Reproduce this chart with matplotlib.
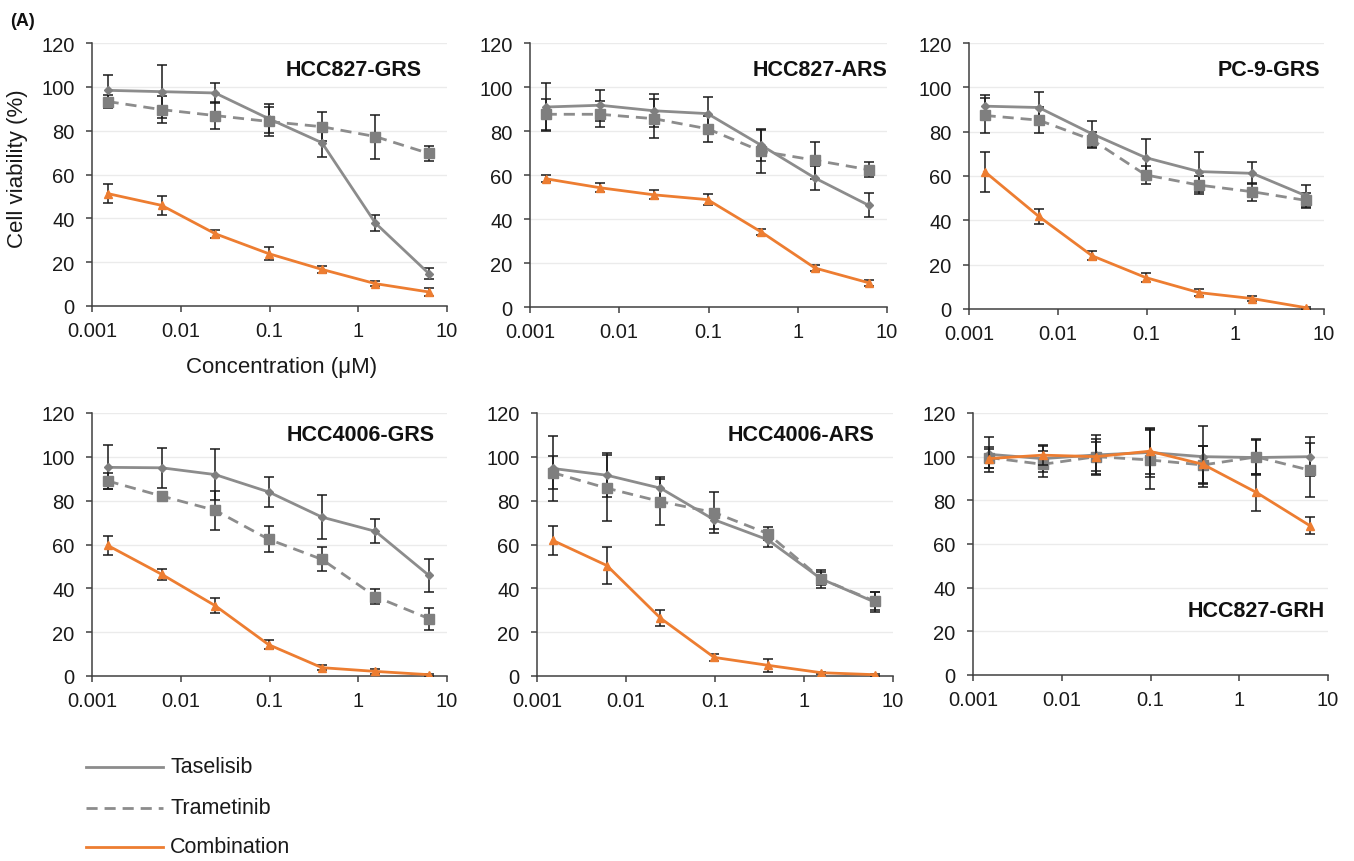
import matplotlib
matplotlib.use("Agg")
import matplotlib.pyplot as plt
from matplotlib.lines import Line2D
import numpy as np

plt.rcParams['font.family'] = ['Liberation Sans', 'DejaVu Sans']

conc = [0.0015, 0.0061, 0.0244, 0.0977, 0.39, 1.5625, 6.25]

panel_names = ["HCC827-GRS", "HCC827-ARS", "PC-9-GRS",
               "HCC4006-GRS", "HCC4006-ARS", "HCC827-GRH"]

tase_mean = [
    [98.4, 97.8, 97.2, 85.5, 74.5, 37.8, 14.8],
    [90.9, 91.7, 89.2, 87.9, 73.5, 58.6, 46.2],
    [91.5, 90.9, 79.0, 68.3, 62.0, 61.2, 51.1],
    [95.2, 95.0, 91.9, 84.0, 72.5, 66.0, 45.9],
    [94.7, 91.6, 85.7, 71.3, 62.2, 44.3, 33.7],
    [101.1, 99.1, 100.8, 101.9, 100.0, 99.6, 100.0],
]
tase_err = [
    [7.0, 12.0, 4.5, 6.5, 6.5, 3.5, 2.5],
    [11.0, 7.0, 7.5, 7.5, 7.0, 5.5, 5.5],
    [5.0, 7.0, 6.0, 8.5, 9.0, 5.0, 5.0],
    [10.0, 9.0, 11.5, 7.0, 10.0, 5.5, 7.5],
    [15.0, 10.0, 5.0, 4.0, 3.5, 3.0, 4.5],
    [8.0, 6.0, 9.0, 11.0, 14.0, 8.0, 9.0],
]
tram_mean = [
    [93.3, 89.6, 86.9, 84.2, 81.8, 77.3, 69.6],
    [87.6, 87.6, 85.6, 81.0, 70.8, 66.7, 62.4],
    [87.3, 85.2, 76.3, 60.5, 55.9, 52.9, 49.0],
    [89.0, 82.1, 75.6, 62.4, 53.2, 36.2, 26.2],
    [92.8, 85.7, 79.6, 74.6, 65.0, 44.3, 34.1],
    [99.6, 96.5, 100.0, 98.5, 96.2, 99.9, 93.8],
]
tram_err = [
    [3.0, 6.0, 6.0, 6.5, 6.5, 10.0, 3.5],
    [7.0, 6.0, 9.0, 6.0, 10.0, 8.5, 3.5],
    [8.0, 6.0, 3.5, 4.0, 4.0, 4.0, 3.5],
    [3.5, 2.0, 9.0, 6.0, 5.5, 3.5, 5.0],
    [7.5, 15.0, 10.5, 9.5, 3.0, 4.0, 4.0],
    [5.0, 6.0, 8.0, 13.5, 8.5, 8.0, 12.5],
]
comb_mean = [
    [51.3, 45.9, 33.0, 23.9, 16.7, 10.2, 6.4],
    [58.3, 54.2, 51.0, 48.8, 34.1, 17.7, 11.0],
    [62.0, 41.8, 24.0, 14.2, 7.4, 4.7, 0.6],
    [59.6, 46.4, 32.1, 14.3, 3.8, 2.1, 0.6],
    [61.9, 50.4, 26.4, 8.5, 4.9, 1.5, 0.6],
    [99.1, 100.7, 100.0, 102.5, 96.5, 83.6, 68.4],
]
comb_err = [
    [4.5, 4.5, 1.8, 3.0, 1.5, 1.0, 2.0],
    [1.5, 2.0, 2.0, 2.5, 1.5, 1.5, 1.5],
    [9.0, 3.5, 2.0, 2.0, 1.5, 1.0, 0.5],
    [4.5, 2.5, 3.5, 2.0, 1.0, 1.0, 0.5],
    [6.5, 8.5, 3.5, 1.5, 3.0, 0.5, 0.5],
    [4.5, 4.5, 6.5, 10.5, 8.5, 8.5, 4.0],
]

legend_labels = ["Taselisib", "Trametinib", "Combination"]
yticks = [0, 20, 40, 60, 80, 100, 120]
xticks = [0.001, 0.01, 0.1, 1, 10]
xticklabels = ["0.001", "0.01", "0.1", "1", "10"]

W, H = 1354, 862
fig = plt.figure(figsize=(W / 100, H / 100), dpi=100)

# pixel boxes: left, right, top, bottom
boxes = [
    (92, 447, 44, 307), (530, 887, 44, 308), (969, 1324, 44, 310),
    (92, 447, 414, 677), (537, 893, 414, 677), (973, 1328, 414, 676),
]
title_pos = [(0.929, 0.898), (1.0, 0.898), (0.99, 0.90),
             (0.966, 0.92), (0.947, 0.92), (0.99, 0.245)]

GRAY_LINE = '#8c8c8c'
GRAY_MARK = '#7f7f7f'
ORANGE = '#ED7D31'
ERR = '#1a1a1a'

for i, (l, r, t, b) in enumerate(boxes):
    ax = fig.add_axes([l / W, 1 - b / H, (r - l) / W, (b - t) / H])
    ax.set_xscale('log')
    ax.set_xlim(0.001, 10)
    ax.set_ylim(0, 120)
    for yv in yticks[1:]:
        ax.axhline(yv, color='#ebebeb', lw=1, zorder=0)
    ekw = dict(ecolor=ERR, elinewidth=1.1, capsize=3.5, capthick=1.1)
    ax.errorbar(conc, tase_mean[i], yerr=tase_err[i], color=GRAY_LINE, lw=2,
                marker='D', ms=4.5, mfc=GRAY_MARK, mec=GRAY_MARK, zorder=3, **ekw)
    ax.errorbar(conc, tram_mean[i], yerr=tram_err[i], color=GRAY_LINE, lw=2,
                linestyle=(0, (4, 2.5)), marker='s', ms=6.5, mfc=GRAY_MARK,
                mec=GRAY_MARK, zorder=3, **ekw)
    ax.errorbar(conc, comb_mean[i], yerr=comb_err[i], color=ORANGE, lw=2,
                marker='^', ms=6, mfc=ORANGE, mec=ORANGE, zorder=4, **ekw)
    ax.set_yticks(yticks)
    ax.set_xticks(xticks)
    ax.set_xticklabels(xticklabels)
    ax.xaxis.set_minor_locator(matplotlib.ticker.NullLocator())
    for s in ['top', 'right']:
        ax.spines[s].set_visible(False)
    for s in ['left', 'bottom']:
        ax.spines[s].set_color('#404040')
        ax.spines[s].set_linewidth(1.1)
    ax.tick_params(axis='both', colors='#404040', labelcolor='#1a1a1a',
                   labelsize=14.5, length=4.5, width=1.1, direction='out')
    ax.tick_params(axis='y', pad=8)
    ax.tick_params(axis='x', pad=6)
    tx, ty = title_pos[i]
    ax.text(tx, ty, panel_names[i], transform=ax.transAxes, ha='right',
            va='center', fontsize=15.5, fontweight='bold', color='#111111')

fig.text(10 / W, 1 - 21 / H, "(A)", fontsize=13, fontweight='bold',
         ha='left', va='center', color='#111111')
fig.text(18 / W, 1 - 169 / H, "Cell viability (%)", rotation=90,
         fontsize=16, ha='center', va='center', color='#1a1a1a')
fig.text(282 / W, 1 - 368 / H, "Concentration (\u03bcM)", fontsize=16,
         ha='center', va='center', color='#1a1a1a')

# legend
leg_y = [768, 809, 848]
styles = [dict(color=GRAY_LINE, lw=2, linestyle='-'),
          dict(color=GRAY_LINE, lw=2, linestyle=(0, (4, 2.5))),
          dict(color=ORANGE, lw=2, linestyle='-')]
for yy, lab, st in zip(leg_y, legend_labels, styles):
    fig.add_artist(Line2D([86 / W, 163 / W], [1 - yy / H, 1 - yy / H],
                          transform=fig.transFigure, **st))
    fig.text(170 / W, 1 - yy / H, lab, fontsize=15.5, ha='left', va='center',
             color='#1a1a1a')

fig.savefig("out.png", dpi=100)
